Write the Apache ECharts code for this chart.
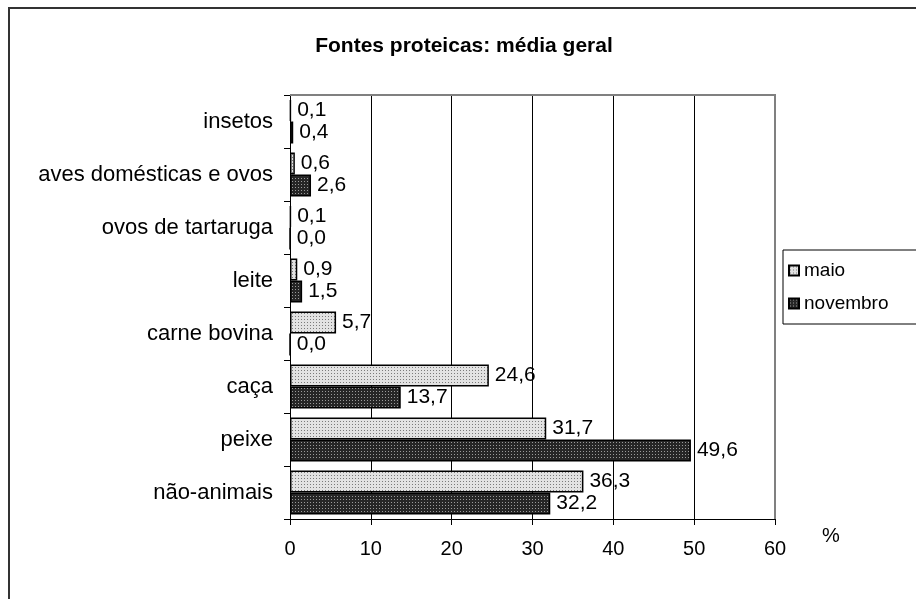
<!DOCTYPE html>
<html>
<head>
<meta charset="utf-8">
<script src="https://cdn.jsdelivr.net/npm/echarts@6/dist/echarts.min.js"></script>
<style>
  html, body { margin: 0; padding: 0; background: #fff; }
  #chart { width: 916px; height: 599px; }
</style>
</head>
<body>
<div id="chart"></div>
<script>
// Protein sources (%), categories listed bottom to top
const categories = ['não-animais', 'peixe', 'caça', 'carne bovina', 'leite', 'ovos de tartaruga', 'aves domésticas e ovos', 'insetos'];
const maio = [36.3, 31.7, 24.6, 5.7, 0.9, 0.1, 0.6, 0.1];
const novembro = [32.2, 49.6, 13.7, 0.0, 1.5, 0.0, 2.6, 0.4];
const xTicks = [0, 10, 20, 30, 40, 50, 60];

const FONT = 'Liberation Sans, Arial, sans-serif';

// Small dotted fill tiles
function dotPattern(bg, dot) {
  const c = document.createElement('canvas');
  c.width = 3; c.height = 3;
  const g = c.getContext('2d');
  g.fillStyle = bg; g.fillRect(0, 0, 3, 3);
  g.fillStyle = dot; g.fillRect(1, 1, 1, 1);
  return c;
}
const maioFill = { image: dotPattern('#e2e2e2', '#7a7a7a'), repeat: 'repeat' };
const novFill = { image: dotPattern('#262626', '#9a9a9a'), repeat: 'repeat' };

const fmt = p => p.value.toFixed(1).replace('.', ',');
const labelStyle = { show: true, position: 'right', distance: 6, formatter: fmt,
                     fontFamily: FONT, fontSize: 21, color: '#000' };

const chart = echarts.init(document.getElementById('chart'), null, { renderer: 'canvas' });
chart.setOption({
  animation: false,
  backgroundColor: '#fff',
  title: {
    text: 'Fontes proteicas: média geral',
    left: 459, top: 31, textAlign: 'center',
    textStyle: { fontFamily: FONT, fontSize: 21, fontWeight: 'bold', color: '#000' }
  },
  legend: {
    orient: 'vertical',
    left: 783, top: 250,
    padding: [11, 40, 11, 5],
    itemGap: 14,
    itemWidth: 10, itemHeight: 10,
    borderColor: '#000', borderWidth: 1,
    icon: 'rect',
    textStyle: { fontFamily: FONT, fontSize: 19, color: '#000' },
    data: ['maio', 'novembro']
  },
  grid: { left: 290, top: 95, right: 141, bottom: 80, containLabel: false, show: false },
  xAxis: {
    type: 'value', min: xTicks[0], max: xTicks[xTicks.length - 1], interval: 10,
    axisLine: { show: true, lineStyle: { color: '#000', width: 1 } },
    axisTick: { show: true, length: 6, lineStyle: { color: '#000' } },
    axisLabel: { fontFamily: FONT, fontSize: 20, color: '#000', margin: 20 },
    splitLine: { show: true, lineStyle: { color: '#000', width: 1 } }
  },
  yAxis: {
    type: 'category', data: categories,
    axisLine: { show: true, lineStyle: { color: '#000', width: 1 } },
    axisTick: { show: true, length: 6, lineStyle: { color: '#000' } },
    axisLabel: { fontFamily: FONT, fontSize: 22, color: '#000', margin: 17 },
    splitLine: { show: false }
  },
  graphic: [
    { type: 'rect', shape: { x: 9, y: 8, width: 940, height: 640 },
      style: { fill: 'none', stroke: '#333', lineWidth: 2 }, silent: true },
    { type: 'polyline', shape: { points: [[290, 95], [775, 95], [775, 519]] },
      style: { stroke: '#808080', lineWidth: 2, fill: 'none' }, z: 5 },
    { type: 'text', left: 822, top: 526,
      style: { text: '%', fontFamily: FONT, fontSize: 20, fill: '#000' } }
  ],
  series: [
    {
      name: 'maio', type: 'bar', data: maio,
      barWidth: 22, barGap: '0%',
      itemStyle: { color: maioFill, borderColor: '#000', borderWidth: 1.5 },
      label: labelStyle
    },
    {
      name: 'novembro', type: 'bar', data: novembro,
      barWidth: 22, barGap: '0%',
      itemStyle: { color: novFill, borderColor: '#000', borderWidth: 1.5 },
      label: labelStyle
    }
  ]
});
</script>
</body>
</html>
